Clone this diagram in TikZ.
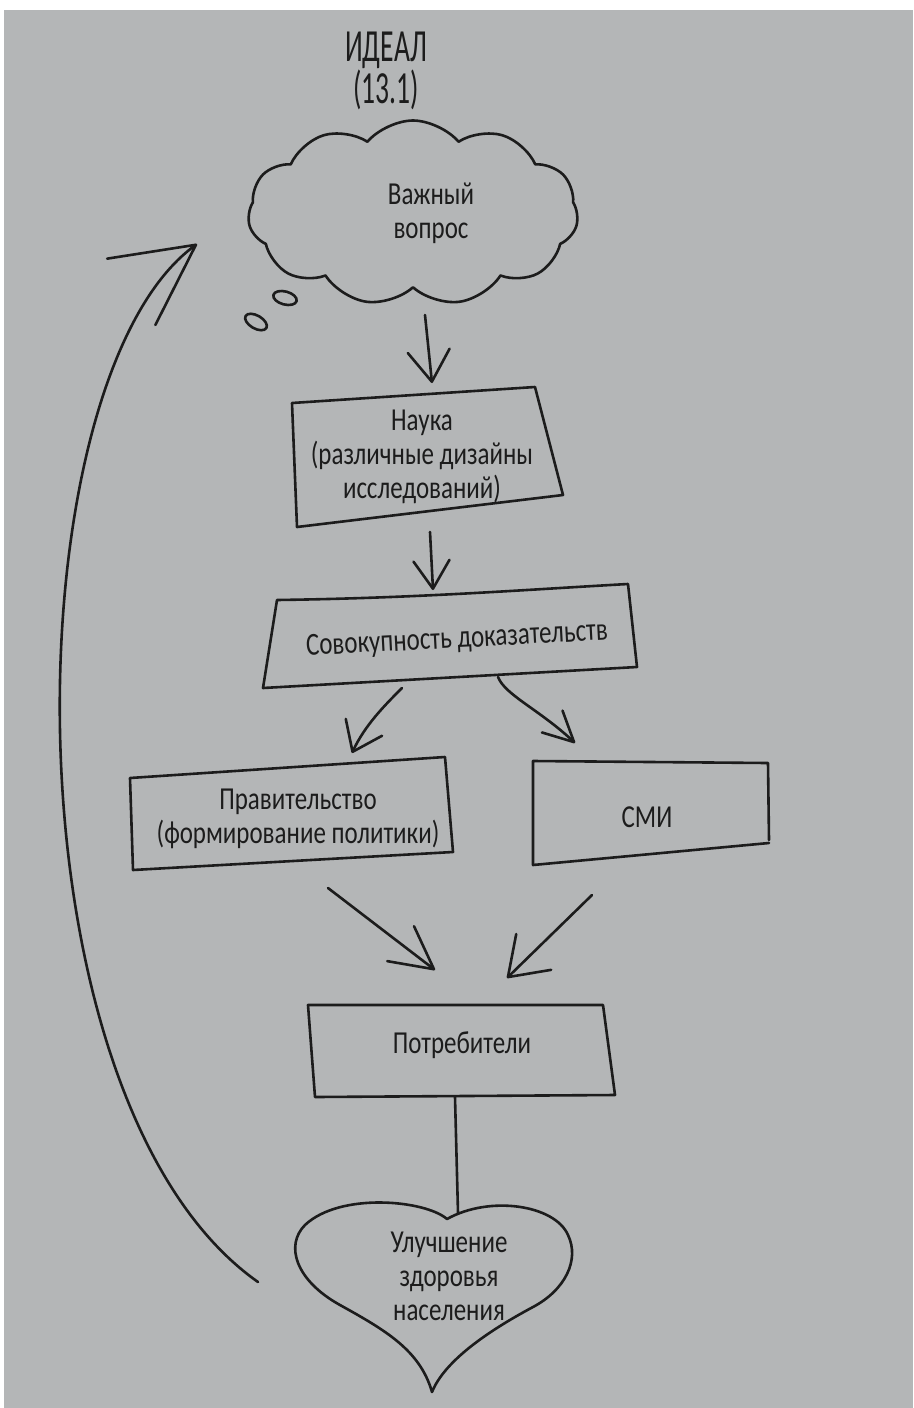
\documentclass[tikz,border=0pt]{standalone}
\usepackage{fontspec}
\setmainfont{Carlito}[FakeStretch=0.78]
\newfontfamily\titlefont{Carlito}[FakeStretch=0.6]
\usetikzlibrary{arrows.meta,shapes.symbols}
\definecolor{paper}{RGB}{180,182,183}
\definecolor{ink}{RGB}{28,28,28}
\tikzset{
  txt/.style={align=center, font=\fontsize{32}{34}\selectfont, text=ink, inner sep=0pt},
  ink line/.style={draw=ink, line width=2.6pt, line join=round, line cap=round},
  vhead/.style 2 args={-{Straight Barb[length=#1pt,width=#2pt,round]}},
}
\begin{document}
\begin{tikzpicture}[x=1pt,y=-1pt]
    \useasboundingbox (0,0) rectangle (913,1408);
    \fill[white] (0,0) rectangle (913,1408);
    \fill[paper] (4,10) rectangle (913,1408);

    \node[txt, font={\titlefont\fontsize{46}{42}\selectfont}] (title) at (386,71) {ИДЕАЛ\\(13.1)};

    % thought cloud
    \node[cloud, cloud puffs=11, cloud puff arc=100, ink line, minimum width=330pt, minimum height=185pt] (cloud) at (413,213) {};
    \node[txt] (question) at (431,213) {Важный\\вопрос};
    \draw[ink line, rotate around={-15:(285,298)}] (285,298) ellipse [x radius=12, y radius=6.5];
    \draw[ink line, rotate around={-30:(256,322)}] (256,322) ellipse [x radius=12, y radius=6.5];

    % boxes
    \draw[ink line] (292,403) -- (535,387) -- (563,495) -- (297,527) -- cycle;
    \node[txt] (science) at (422,457) {Наука\\(различные дизайны\\исследований)};
    \draw[ink line] (277,600) .. controls (420,598) and (520,590) .. (628,584) -- (637,667) -- (263,688) -- cycle;
    \node[txt, rotate=3] (evidence) at (457,640) {Совокупность доказательств};
    \draw[ink line] (130,778) -- (445,757) -- (453,852) -- (133,870) -- cycle;
    \node[txt] (government) at (298,819) {Правительство\\(формирование политики)};
    \draw[ink line] (769,843) -- (533,865) -- (533,761) -- (768,763) -- (769,840);
    \node[txt] (media) at (647,817) {СМИ};
    \draw[ink line] (308,1005) -- (603,1005) -- (615,1095) -- (315,1097) -- cycle;
    \node[txt] (consumers) at (462,1045) {Потребители};

    % heart
    \draw[ink line] (447,1219) .. controls (425,1200) and (340,1192) .. (305,1225)
        .. controls (285,1245) and (295,1280) .. (340,1305)
        .. controls (385,1330) and (420,1350) .. (432,1392)
        .. controls (445,1360) and (490,1330) .. (533,1307)
        .. controls (565,1290) and (580,1260) .. (568,1235)
        .. controls (555,1205) and (490,1195) .. (447,1219);
    \node[txt] (health) at (449,1276) {Улучшение\\здоровья\\населения};

    % arrow ends
    \coordinate (q-out) at (425,315);
    \coordinate (sci-in) at (432,383);
    \coordinate (sci-out) at (430,532);
    \coordinate (ev-in) at (433,590);
    \coordinate (ev-left) at (402,688);
    \coordinate (gov-in) at (352,753);
    \coordinate (ev-right) at (498,677);
    \coordinate (media-in) at (575,743);
    \coordinate (gov-out) at (328,888);
    \coordinate (media-out) at (592,895);
    \coordinate (cons-left) at (435,970);
    \coordinate (cons-right) at (507,978);
    \coordinate (cons-out) at (455,1097);
    \coordinate (heart top) at (458,1213);
    \coordinate (loop-start) at (258,1282);
    \coordinate (loop-end) at (197,244);

    \draw[ink line, vhead={31}{42}] (q-out) -- (sci-in);
    \draw[ink line, vhead={28}{36}] (sci-out) -- (ev-in);
    \draw[ink line, vhead={27}{40}] (ev-left) .. controls (385,705) and (365,725) .. (gov-in);
    \draw[ink line, vhead={30}{30}] (ev-right) .. controls (505,695) and (540,710) .. (media-in);
    \draw[ink line, vhead={42}{44}] (gov-out) -- (cons-left);
    \draw[ink line, vhead={36}{50}] (media-out) -- (cons-right);
    \draw[ink line] (cons-out) -- (heart top);
    \draw[ink line, vhead={80}{82}] (loop-start) .. controls (0,1100) and (10,380) .. (loop-end);
\end{tikzpicture}
\end{document}
